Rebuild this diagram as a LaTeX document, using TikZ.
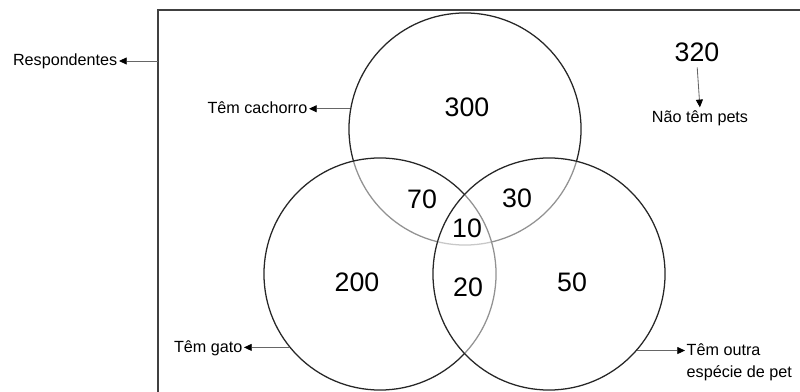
\documentclass[tikz,border=0pt]{standalone}
\usepackage{fontspec}
\setmainfont{Liberation Sans}
\usetikzlibrary{arrows.meta}

\begin{document}
\begin{tikzpicture}[x=0.025cm, y=-0.025cm,
		conj/.style={circle, draw=black!85, line width=.9pt, fill=white, fill opacity=.5, minimum size=5.8cm, inner sep=0pt},
		num/.style={font=\fontsize{19}{22}\selectfont, inner sep=2pt},
		rot/.style={font=\fontsize{11.5}{15.6}\selectfont, inner sep=1pt},
		seta/.style={draw=black!60, line width=.6pt, -{Triangle[length=5.5pt, width=5pt, color=black]}}]
				\useasboundingbox (0,0) rectangle (800,392);
				\draw[draw=black!75, line width=1.5pt] (158,10) rectangle (812,404);
				\coordinate (borda) at (158,61);
				% conjuntos
				\node[conj] (c1) at (465,129) {};
				\node[conj] (c2) at (380,274) {};
				\node[conj] (c3) at (549,274) {};
				% contagens
				\node[num] (m1) at (467,107) {300};
				\node[num] (m2) at (422,199) {70};
				\node[num] (m3) at (517,198) {30};
				\node[num] (m4) at (467,228) {10};
				\node[num] (m5) at (357,282) {200};
				\node[num] (m6) at (468,287) {20};
				\node[num] (m7) at (572,282) {50};
				\node[num] (m8) at (697,52) {320};
				% rotulos
				\node[rot, anchor=east] (l1) at (119,61) {Respondentes};
				\node[rot, anchor=east] (l2) at (309,108) {Têm cachorro};
				\node[rot] (l3) at (700,118) {Não têm pets};
				\node[rot, anchor=east] (l4) at (244,348) {Têm gato};
				\node[rot, anchor=west, align=left] (l5) at (685,362) {Têm outra\\espécie de pet};
				\draw[seta] (borda) -- (l1.east);
				\draw[seta] (c1.170) -- (c1.170 -| l2.east);
				\draw[seta, shorten <=2pt, shorten >=1pt] (m8.south) -- (l3.north);
				\draw[seta] (c2.219) -- (c2.219 -| l4.east);
				\draw[seta] (c3.319) -- (c3.319 -| l5.west);
			\end{tikzpicture}
\end{document}
